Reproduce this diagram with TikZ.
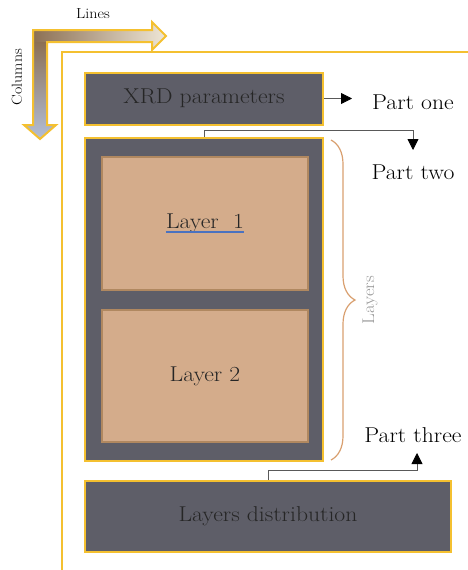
\documentclass[tikz,border=0pt]{standalone}
\usepackage{fontspec}
\setmainfont{Latin Modern Roman}[FakeStretch=1.1]
\usepackage{xcolor}
\usepackage{tikz}
\usetikzlibrary{arrows.meta, positioning, decorations.pathreplacing}

\definecolor{boxgrey}{RGB}{94,94,104}
\definecolor{gold}{RGB}{244,192,48}
\definecolor{layertan}{RGB}{212,172,139}
\definecolor{layeredge}{RGB}{176,136,96}
\definecolor{bracetan}{RGB}{217,160,112}
\definecolor{arrowbrown}{RGB}{140,112,84}
\definecolor{arrowcream}{RGB}{238,230,214}
\definecolor{arrowblue}{RGB}{178,190,216}

\begin{document}
\begin{tikzpicture}[
    x=1pt, y=-1pt,
    every node/.style={align=center, font=\fontsize{21.5}{25}\selectfont},
    darkbox/.style={draw=gold, line width=2pt, fill=boxgrey, text=black!85, inner sep=0pt},
    layerbox/.style={draw=layeredge, line width=1.5pt, fill=layertan, text=black!85, inner sep=0pt},
    link/.style={draw=black!65, line width=0.8pt, -{Triangle[length=11pt, width=11pt, black]}},
    frame/.style={draw=gold, line width=2.5pt},
    small/.style={font=\fontsize{14.5}{17}\selectfont}
]
\useasboundingbox (0,0) rectangle (468,570);

% lines / columns arrow
\shade[left color=arrowbrown, right color=arrowcream]
    (33,30) -- (152,30) -- (152,22) -- (166,36) -- (152,50) -- (152,42) -- (33,42) -- cycle;
\shade[top color=arrowbrown, bottom color=arrowblue]
    (33,42) -- (47,42) -- (47,125) -- (56,125) -- (40,139) -- (24,125) -- (33,125) -- cycle;
\draw[draw=gold, line width=2pt]
    (33,30) -- (152,30) -- (152,22) -- (166,36) -- (152,50) -- (152,42) -- (47,42)
    -- (47,125) -- (56,125) -- (40,139) -- (24,125) -- (33,125) -- cycle;
\node[small] (lineslbl) at (93,14) {Lines};
\node[small, rotate=90] (colslbl) at (17,77) {Columns};

\draw[frame] (468,52) -- (62,52) -- (62,570);

% boxes
\node[darkbox, minimum width=238pt, minimum height=52pt] (xrd) at (204,98.5) {XRD parameters};
\node[darkbox, minimum width=238pt, minimum height=323pt] (layers) at (204,299.5) {};
\node[layerbox, minimum width=206pt, minimum height=133pt] (layer1) at (205,223.5) {};
\node[inner sep=0pt, text=black!85] (l1txt) at (layer1) {Layer\ \ 1};
\draw[draw={rgb,255:red,74;green,114;blue,192}, line width=2pt]
    ([yshift=-3pt]l1txt.base west) -- ([yshift=-3pt]l1txt.base east);
\node[layerbox, minimum width=206pt, minimum height=132pt] (layer2) at (205,376) {Layer 2};
\node[darkbox, minimum width=366pt, minimum height=71pt] (dist) at (268,516.5) {Layers distribution};

% parts
\node (p1) at (413,102) {Part one};
\node (p2) at (413,172) {Part two};
\node (p3) at (413,435) {Part three};

\coordinate (t1) at (352,98.5);
\coordinate (t2) at (413,150);
\coordinate (t3) at (417,453);
\draw[link] (xrd.east) -- (t1);
\draw[link] (layers.north) -- ++(0,-7) -| (t2);
\draw[link] (dist.north) -- ++(0,-10) -| (t3);

% brace
\draw[draw=bracetan, line width=1.2pt, decorate, decoration={brace, amplitude=24pt}]
    (331,140) -- (331,460);
\node[rotate=90, text=black!40, font=\fontsize{17}{20}\selectfont] (bracelbl) at (370,300) {Layers};

\end{tikzpicture}
\end{document}
